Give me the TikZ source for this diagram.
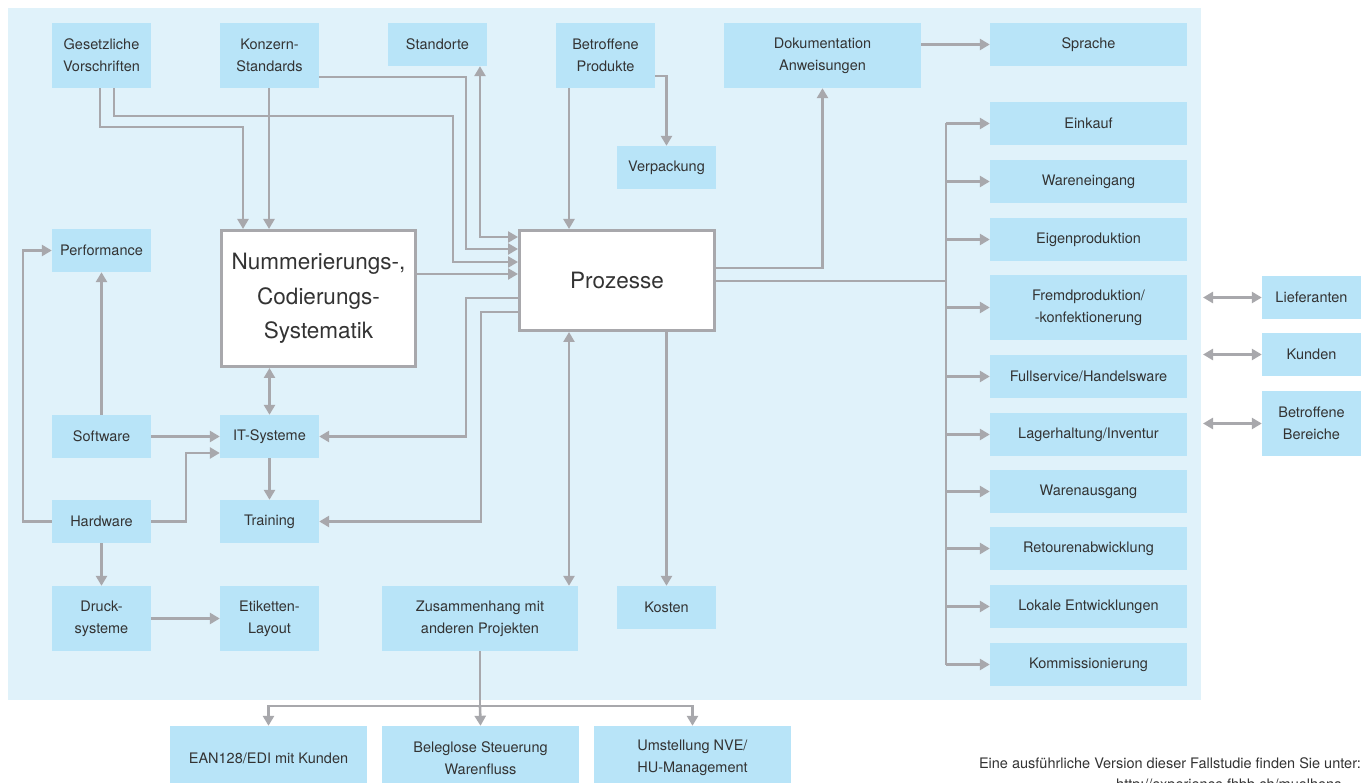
\documentclass[tikz,border=0pt]{standalone}
\usepackage{fontspec}
\setmainfont{TeX Gyre Heros}
\usetikzlibrary{arrows.meta}
\definecolor{bgc}{HTML}{E0F2FA}
\definecolor{boxc}{HTML}{B8E4F8}
\definecolor{lc}{HTML}{A8A8AC}
\definecolor{tc}{HTML}{333333}
\tikzset{
  bx/.style={fill=boxc, inner sep=0pt, align=center, text=tc, minimum width=99pt, minimum height=43pt, font=\fontsize{14.5}{22}\selectfont},
  wide/.style={minimum width=197pt},
  tall/.style={minimum height=65pt},
  bigbox/.style={fill=white, draw=lc, line width=2.6pt, inner sep=0pt, align=center, text=tc, font=\fontsize{22.5}{34.5}\selectfont},
  conn/.style={draw=lc, line width=2.6pt},
  arr/.style={conn, -{Triangle[length=10pt,width=11pt]}},
  darr/.style={conn, {Triangle[length=10pt,width=11pt]}-{Triangle[length=10pt,width=11pt]}},
  foottext/.style={inner sep=0pt, text=tc, font=\fontsize{14.5}{20}\selectfont},
}
\begin{document}
\begin{tikzpicture}[x=1pt,y=-1pt]
\clip (0,0) rectangle (1363,783);
\fill[white] (0,0) rectangle (1363,783);
\fill[bgc] (8,8) rectangle (1201,700);

% top row
\node[bx,tall] (ges) at (101.5,55.5) {Gesetzliche\\Vorschriften};
\node[bx,tall] (kon) at (269.5,55.5) {Konzern-\\Standards};
\node[bx] (std) at (437.5,44.5) {Standorte};
\node[bx,tall] (bp) at (605.5,55.5) {Betroffene\\Produkte};
\node[bx,tall,wide] (doku) at (822.5,55.5) {Dokumentation\\Anweisungen};
\node[bx,wide] (spr) at (1088.5,44.5) {Sprache};
\node[bx] (verp) at (666.5,167.5) {Verpackung};

% center
\node[bx] (perf) at (101.5,250.5) {Performance};
\node[bigbox, minimum width=194.4pt, minimum height=136.4pt] (num) at (318.5,298.5) {Nummerierungs-,\\Codierungs-\\Systematik};
\node[bigbox, minimum width=195.4pt, minimum height=100.4pt] (proz) at (617,280.5) {Prozesse};

% left lower
\node[bx] (sw) at (101.5,436.5) {Software};
\node[bx] (it) at (269.5,436.5) {IT-Systeme};
\node[bx] (hw) at (101.5,521.5) {Hardware};
\node[bx] (tr) at (269.5,521.5) {Training};
\node[bx,tall] (dr) at (101.5,618.5) {Druck-\\systeme};
\node[bx,tall] (et) at (269.5,618.5) {Etiketten-\\Layout};
\node[bx,tall,minimum width=196pt] (zus) at (480,618.5) {Zusammenhang mit\\anderen Projekten};
\node[bx] (kos) at (666.5,607.5) {Kosten};

% bottom row
\node[bx,wide,minimum height=64pt] (ean) at (268.5,758) {EAN128/EDI mit Kunden};
\node[bx,wide,minimum height=64pt] (bel) at (480.5,758) {Beleglose Steuerung\\Warenfluss};
\node[bx,wide,minimum height=64pt] (ums) at (692.5,758) {Umstellung NVE/\\HU-Management};

% right column
\node[bx,wide] (ek) at (1088.5,123.5) {Einkauf};
\node[bx,wide] (we) at (1088.5,181.5) {Wareneingang};
\node[bx,wide] (ep) at (1088.5,239.5) {Eigenproduktion};
\node[bx,wide,tall] (fp) at (1088.5,307.5) {Fremdproduktion/\\-konfektionerung};
\node[bx,wide] (fs) at (1088.5,376.5) {Fullservice/Handelsware};
\node[bx,wide] (lh) at (1088.5,434.5) {Lagerhaltung/Inventur};
\node[bx,wide] (wa) at (1088.5,491.5) {Warenausgang};
\node[bx,wide] (ra) at (1088.5,548.5) {Retourenabwicklung};
\node[bx,wide] (le) at (1088.5,606.5) {Lokale Entwicklungen};
\node[bx,wide] (ko) at (1088.5,664.5) {Kommissionierung};

\node[bx] (lief) at (1311.5,297.5) {Lieferanten};
\node[bx] (kun) at (1311.5,354.5) {Kunden};
\node[bx,tall] (bb) at (1311.5,423.5) {Betroffene\\Bereiche};

% footer
\node[foottext, anchor=base east] (foot) at (1361,768) {Eine ausführliche Version dieser Fallstudie finden Sie unter:};
\node[foottext, anchor=base west] (url) at (1116,789) {http://experience.fhbb.ch/muelhens};

% connectors: top inputs
\draw[arr] (ges.south -| 100,0) |- (243,127) -- (num.north -| 243,0);
\draw[arr] (ges.south -| 114,0) |- (453,116) |- (proz.west |- 0,262);
\draw[arr] (kon.south -| 269,0) -- (num.north -| 269,0);
\draw[arr] (kon.east |- 0,77) -| (466,249) -- (proz.west |- 0,249);
\draw[darr] (std.south -| 480,0) |- (proz.west |- 0,237);
\draw[arr] (num.east |- 0,274) -- (proz.west |- 0,274);
\draw[arr] (bp.south -| 569,0) -- (proz.north -| 569,0);
\draw[arr] (bp.east |- 0,76) -| (verp.north);
\draw[arr] (proz.east |- 0,268) -| (doku.south);
\draw[arr] (doku.east |- spr.west) -- (spr.west);

% trunk to right column
\coordinate (tt) at (946,123.5);
\coordinate (tb) at (946,664.5);
\draw[conn] (proz.east |- 0,281) -- (tt |- 0,281);
\draw[conn] (tt) -- (tb);
\foreach \n in {ek,we,ep,fp,fs,lh,wa,ra,le,ko}{
  \draw[arr] (tt |- \n.west) -- (\n.west);
}

% right double arrows
\coordinate (r1) at (1203,297.5);
\coordinate (r2) at (1203,354.5);
\coordinate (r3) at (1203,423.5);
\draw[darr] (r1) -- (lief.west);
\draw[darr] (r2) -- (kun.west);
\draw[darr] (r3) -- (bb.west);

% Prozesse to left lower
\draw[arr] (proz.west |- 0,298) -| (466,436.5) -- (it.east);
\draw[arr] (proz.west |- 0,312) -| (481,521.5) -- (tr.east);
\draw[darr] (it.north |- num.south) -- (it.north);
\draw[arr] (it.south) -- (tr.north);
\draw[arr] (sw.east) -- (it.west);
\draw[arr] (hw.east) -| (186,453) -- (it.west |- 0,453);
\draw[arr] (hw.west) -| (23,250.5) -- (perf.west);
\draw[arr] (sw.north) -- (perf.south);
\draw[arr] (hw.south) -- (dr.north);
\draw[arr] (dr.east) -- (et.west);

% Prozesse down
\draw[darr] (proz.south -| 569,0) -- (zus.north -| 569,0);
\draw[arr] (proz.south -| 666.5,0) -- (kos.north);

% Zusammenhang to bottom
\coordinate (zb) at (480,706);
\draw[conn] (zus.south) -- (zb);
\draw[arr] (zb) -| (ean.north);
\draw[arr] (zb) -| (ums.north);
\draw[arr] (zb) -- (bel.north);
\end{tikzpicture}
\end{document}
